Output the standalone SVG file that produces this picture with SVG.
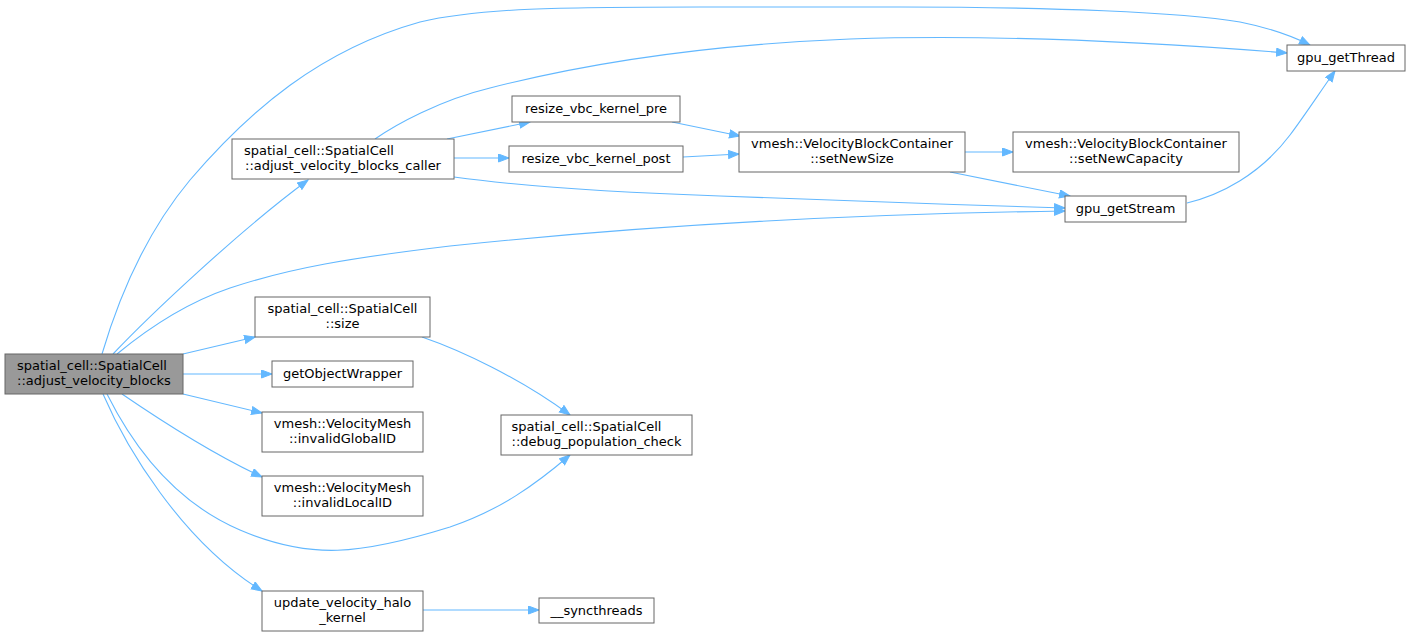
<svg xmlns="http://www.w3.org/2000/svg" width="1411" height="636" viewBox="0 0 1411 636">
<style>
.n rect{fill:#ffffff;stroke:#666666;stroke-width:1}
.n.main rect{fill:#999999}
.n text{font-family:"DejaVu Sans","Liberation Sans",sans-serif;font-size:13px;fill:#000000}
.m{text-anchor:middle}
.e path{fill:none;stroke:#63b8ff;stroke-width:1.1;marker-end:url(#ah)}
</style>
<defs>
<marker id="ah" markerUnits="userSpaceOnUse" markerWidth="13" markerHeight="10" refX="11" refY="4.5" orient="auto">
<path d="M0.5,0.5 L11,4.5 L0.5,8.5 z" fill="#63b8ff" stroke="#63b8ff" stroke-width="1"/>
</marker>
</defs>
<rect width="1411" height="636" fill="#ffffff"/>
<g id="connectors" class="e">
<path d="M113,354 C150,315 240,230 308,180"/>
<path d="M102,354 C115,310 140,240 190,180 C250,110 320,50 420,22 C480,8 560,7 700,7 L900,7 C1050,7 1180,12 1240,22 C1270,28 1292,36 1310,45"/>
<path d="M117,354 C140,335 180,305 230,288 C290,268 350,258 450,246 C650,225 850,214 1065,211"/>
<path d="M183,354 L255,337"/>
<path d="M183,374 L272,374"/>
<path d="M183,394 L262,413"/>
<path d="M122,394 C160,420 215,455 262,477"/>
<path d="M107,394 C130,440 170,500 240,530 C310,560 360,555 450,527 C500,510 535,485 570,455"/>
<path d="M103,394 C125,445 180,540 262,591"/>
<path d="M447,139 L530,122"/>
<path d="M454,158 L509,158"/>
<path d="M375,139 C395,125 440,100 490,88 C580,65 700,45 850,39 C1000,34 1150,42 1287,53"/>
<path d="M454,177 C520,186 600,192 720,196 C850,200 950,205 1065,208"/>
<path d="M672,122 L740,136"/>
<path d="M683,157 L739,154"/>
<path d="M965,152 L1013,152"/>
<path d="M950,172 L1070,196"/>
<path d="M1187,203 C1220,195 1260,175 1290,135 C1305,115 1320,92 1335,71"/>
<path d="M422,337 C460,350 520,378 570,415"/>
<path d="M423,610 L539,610"/>
</g>
<g id="node_main" class="n main">
<rect x="5" y="354" width="178" height="40"/>
<text x="17" y="370">spatial_cell::SpatialCell</text>
<text x="94" y="385" class="m">::adjust_velocity_blocks</text>
</g>
<g id="node_caller" class="n">
<rect x="232" y="139" width="222" height="40"/>
<text x="244" y="155">spatial_cell::SpatialCell</text>
<text x="343" y="170" class="m">::adjust_velocity_blocks_caller</text>
</g>
<g id="node_resize_pre" class="n">
<rect x="512" y="96" width="168" height="26"/>
<text x="596" y="113" class="m">resize_vbc_kernel_pre</text>
</g>
<g id="node_resize_post" class="n">
<rect x="509" y="146" width="174" height="26"/>
<text x="596" y="163" class="m">resize_vbc_kernel_post</text>
</g>
<g id="node_setNewSize" class="n">
<rect x="739" y="132" width="226" height="40"/>
<text x="852" y="148" class="m">vmesh::VelocityBlockContainer</text>
<text x="852" y="163" class="m">::setNewSize</text>
</g>
<g id="node_setNewCapacity" class="n">
<rect x="1013" y="132" width="226" height="40"/>
<text x="1126" y="148" class="m">vmesh::VelocityBlockContainer</text>
<text x="1126" y="163" class="m">::setNewCapacity</text>
</g>
<g id="node_gpu_getStream" class="n">
<rect x="1065" y="196" width="121" height="26"/>
<text x="1125.5" y="213" class="m">gpu_getStream</text>
</g>
<g id="node_gpu_getThread" class="n">
<rect x="1287" y="45" width="118" height="26"/>
<text x="1346" y="62" class="m">gpu_getThread</text>
</g>
<g id="node_size" class="n">
<rect x="255" y="297" width="175" height="40"/>
<text x="342.5" y="313" class="m">spatial_cell::SpatialCell</text>
<text x="342.5" y="328" class="m">::size</text>
</g>
<g id="node_getObjectWrapper" class="n">
<rect x="272" y="361" width="141" height="26"/>
<text x="342.5" y="378" class="m">getObjectWrapper</text>
</g>
<g id="node_invalidGlobalID" class="n">
<rect x="262" y="412" width="161" height="40"/>
<text x="342.5" y="428" class="m">vmesh::VelocityMesh</text>
<text x="342.5" y="443" class="m">::invalidGlobalID</text>
</g>
<g id="node_invalidLocalID" class="n">
<rect x="262" y="476" width="161" height="40"/>
<text x="342.5" y="492" class="m">vmesh::VelocityMesh</text>
<text x="342.5" y="507" class="m">::invalidLocalID</text>
</g>
<g id="node_debug_population_check" class="n">
<rect x="501" y="415" width="191" height="40"/>
<text x="511.5" y="431">spatial_cell::SpatialCell</text>
<text x="596.5" y="446" class="m">::debug_population_check</text>
</g>
<g id="node_update_velocity_halo_kernel" class="n">
<rect x="262" y="591" width="161" height="40"/>
<text x="342.5" y="607" class="m">update_velocity_halo</text>
<text x="342.5" y="622" class="m">_kernel</text>
</g>
<g id="node_syncthreads" class="n">
<rect x="539" y="598" width="115" height="25"/>
<text x="596.5" y="615" class="m">__syncthreads</text>
</g>
</svg>
